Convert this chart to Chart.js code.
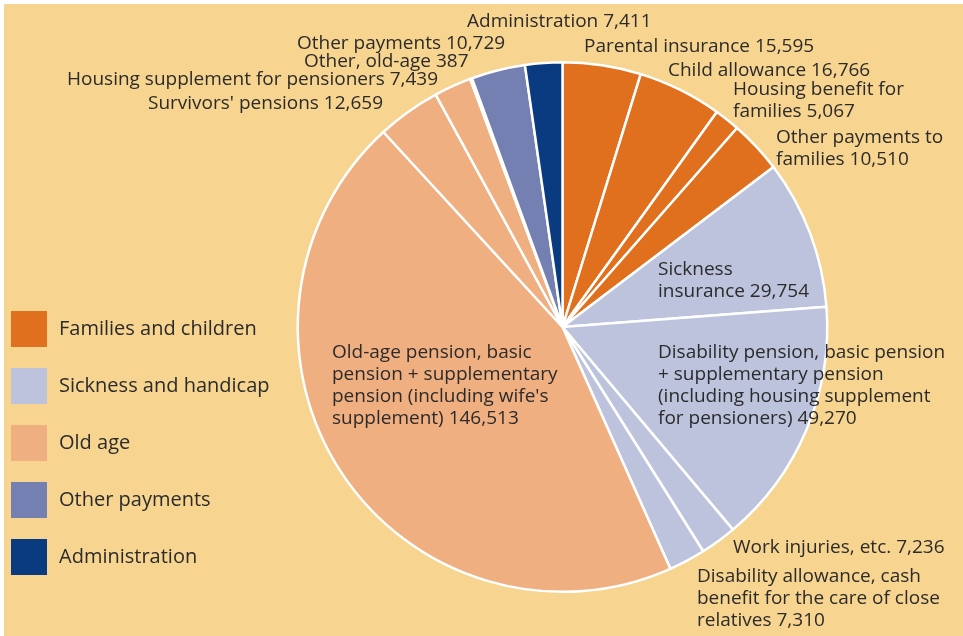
<!DOCTYPE html>
<html>
<head>
<meta charset="utf-8">
<script src="https://cdn.jsdelivr.net/npm/chart.js@4"></script>
<style>
  html, body { margin: 0; padding: 0; background: #fff; }
  #wrap { position: relative; width: 963px; height: 636px; }
</style>
</head>
<body>
<div id="wrap"><canvas id="pie"></canvas></div>
<script>
// Slices, clockwise from 12 o'clock
const sliceLabels = [
  ["Parental insurance 15,595"],
  ["Child allowance 16,766"],
  ["Housing benefit for", "families 5,067"],
  ["Other payments to", "families 10,510"],
  ["Sickness", "insurance 29,754"],
  ["Disability pension, basic pension", "+ supplementary pension", "(including housing supplement", "for pensioners) 49,270"],
  ["Work injuries, etc. 7,236"],
  ["Disability allowance, cash", "benefit for the care of close", "relatives 7,310"],
  ["Old-age pension, basic", "pension + supplementary", "pension (including wife's", "supplement) 146,513"],
  ["Survivors' pensions 12,659"],
  ["Housing supplement for pensioners 7,439"],
  ["Other, old-age 387"],
  ["Other payments 10,729"],
  ["Administration 7,411"]
];
const sliceValues = [15595, 16766, 5067, 10510, 29754, 49270, 7236, 7310, 146513, 12659, 7439, 387, 10729, 7411];
const sliceGroup = [0, 0, 0, 0, 1, 1, 1, 1, 2, 2, 2, 2, 3, 4];

const groupNames = ["Families and children", "Sickness and handicap", "Old age", "Other payments", "Administration"];
const groupColors = ["#e0701e", "#bec3dd", "#efaf80", "#7580b2", "#0a3a80"];

// where each slice label sits (left x, first-line middle y)
const labelPos = [
  [584, 47], [668, 71], [733, 90], [776, 138], [658, 270], [658, 353],
  [733, 548], [697, 577], [332, 353], [148, 104], [67, 80], [304, 62],
  [297, 44], [467, 22]
];

const FONT = '19px "Open Sans", sans-serif';
const LEGEND_FONT = '20px "Open Sans", sans-serif';
const TEXT = "#2b2b2b";

const decor = {
  id: "decor",
  beforeDraw(chart) {
    const ctx = chart.ctx;
    ctx.save();
    ctx.fillStyle = "#f7d48f";
    ctx.fillRect(4, 4, chart.width - 4, chart.height - 4);
    ctx.restore();
  },
  afterDraw(chart) {
    const ctx = chart.ctx;
    ctx.save();
    ctx.font = FONT;
    ctx.fillStyle = TEXT;
    ctx.textBaseline = "middle";
    ctx.textAlign = "left";
    sliceLabels.forEach((lines, i) => {
      const [x, y] = labelPos[i];
      const lh = lines.length > 2 || i === 4 ? 21.7 : 21.5;
      lines.forEach((t, j) => ctx.fillText(t, x, y + j * lh));
    });
    // legend
    ctx.font = LEGEND_FONT;
    groupNames.forEach((name, i) => {
      const top = 311 + i * 57;
      ctx.fillStyle = groupColors[i];
      ctx.fillRect(11, top, 36, 36);
      ctx.fillStyle = TEXT;
      ctx.fillText(name, 59, top + 18);
    });
    ctx.restore();
  }
};

new Chart(document.getElementById("pie"), {
  type: "pie",
  data: {
    labels: sliceLabels.map(l => l.join(" ")),
    datasets: [{
      data: sliceValues,
      backgroundColor: sliceGroup.map(g => groupColors[g]),
      borderColor: "#ffffff",
      borderWidth: 2.5
    }]
  },
  options: {
    responsive: true,
    maintainAspectRatio: false,
    animation: false,
    layout: { padding: { left: 296, right: 134, top: 61, bottom: 43 } },
    plugins: {
      legend: { display: false },
      tooltip: { enabled: false }
    }
  },
  plugins: [decor]
});
</script>
</body>
</html>
